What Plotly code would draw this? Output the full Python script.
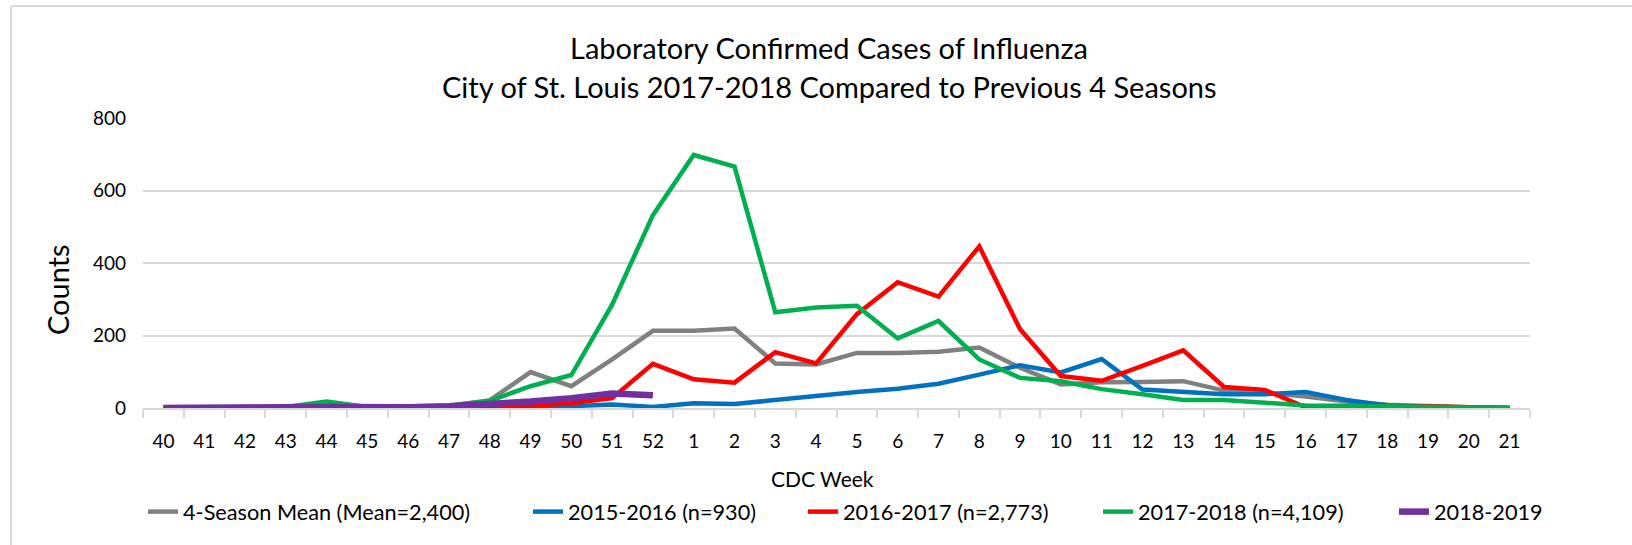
import plotly.graph_objects as go

weeks = [str(w) for w in range(40, 53)] + [str(w) for w in range(1, 22)]

mean_4season = [2, 3, 2, 3, 5, 3, 3, 6, 21, 99, 60, 134, 213, 213, 219, 123, 120, 152, 152, 155, 167, 111,
                65, 71, 72, 74, 48, 42, 32, 18, 9, 4, 2, 1]
s2015_2016 = [0, 0, 0, 0, 0, 0, 0, 1, 1, 2, 5, 10, 3, 13, 11, 23, 35, 44, 53, 67, 92, 118,
              98, 135, 51, 43, 38, 38, 44, 22, 7, 2, 1, 0]
s2016_2017 = [0, 1, 1, 2, 2, 2, 2, 3, 4, 6, 13, 27, 122, 79, 70, 154, 123, 259, 347, 307, 446, 217,
              88, 75, 116, 159, 58, 50, 2, 5, 2, 5, 2, 0]
s2017_2018 = [0, 2, 2, 3, 18, 3, 3, 6, 20, 60, 91, 285, 532, 698, 666, 264, 277, 282, 192, 240, 134, 83,
              74, 52, 38, 22, 22, 14, 7, 6, 5, 2, 1, 0]
s2018_2019 = [0, 2, 2, 2, 3, 2, 2, 5, 10, 18, 27, 40, 35]

series_names = ["4-Season Mean (Mean=2,400)", "2015-2016 (n=930)", "2016-2017 (n=2,773)",
                "2017-2018 (n=4,109)", "2018-2019"]
y_ticks = [0, 200, 400, 600, 800]

FONT = "Lato"
W, H = 1632, 545
L, R, T, B = 143, 102, 118, 137

ph = H - T - B
pw = W - L - R


def py(pix):
    return (H - B - pix) / ph


def px(pix):
    return (pix - L) / pw


fig = go.Figure()
styles = [("#808080", 4.5), ("#0070C0", 4.5), ("#FF0000", 4.5), ("#00B050", 4.5), ("#7030A0", 6.5)]
data = [mean_4season, s2015_2016, s2016_2017, s2017_2018, s2018_2019]
legend_ids = ["legend", "legend2", "legend3", "legend4", "legend5"]
legend_text_x = [185, 570, 845, 1140, 1436]

for name, vals, (col, w), lid in zip(series_names, data, styles, legend_ids):
    fig.add_trace(go.Scatter(
        x=weeks[:len(vals)], y=vals, name=name, mode="lines",
        line=dict(color=col, width=w), legend=lid,
    ))

legend_layout = {}
for lid, tx in zip(legend_ids, legend_text_x):
    legend_layout[lid] = dict(orientation="h", x=px(tx - 42), xanchor="left", y=py(512), yanchor="middle",
                              font=dict(family=FONT, size=21.7, color="#000000"),
                              bgcolor="rgba(0,0,0,0)")

fig.update_layout(
    width=W, height=H,
    margin=dict(l=L, r=R, t=T, b=B),
    paper_bgcolor="white", plot_bgcolor="white",
    font=dict(family=FONT, size=19, color="#000000"),
    showlegend=True,
    xaxis=dict(type="category", categoryorder="array", categoryarray=weeks,
               range=[-0.5, len(weeks) - 0.5], showgrid=False,
               showline=True, linecolor="#d9d9d9", linewidth=2,
               ticks="outside", tickson="boundaries", ticklen=8, tickcolor="#d9d9d9", tickwidth=2,
               tickfont=dict(family=FONT, size=19), ticklabelstandoff=15, fixedrange=True),
    yaxis=dict(range=[0, 800], tickvals=y_ticks, showgrid=True, gridcolor="#d9d9d9", gridwidth=2,
               zeroline=False, showline=False, ticks="",
               tickfont=dict(family=FONT, size=19), ticklabelstandoff=16, fixedrange=True),
    annotations=[
        dict(text="Laboratory Confirmed Cases of Influenza", xref="paper", yref="paper",
             x=px(829), y=py(48), xanchor="center", yanchor="middle", showarrow=False,
             font=dict(family=FONT, size=29)),
        dict(text="City of St. Louis 2017-2018 Compared to Previous 4 Seasons", xref="paper", yref="paper",
             x=px(829), y=py(87), xanchor="center", yanchor="middle", showarrow=False,
             font=dict(family=FONT, size=29)),
        dict(text="Counts", xref="paper", yref="paper", x=px(57), y=py(290), textangle=-90,
             xanchor="center", yanchor="middle", showarrow=False, font=dict(family=FONT, size=29)),
        dict(text="CDC Week", xref="paper", yref="paper", x=px(822), y=py(478),
             xanchor="center", yanchor="middle", showarrow=False, font=dict(family=FONT, size=21)),
    ],
    shapes=[
        dict(type="line", xref="paper", yref="paper", x0=px(11), x1=px(W + 5), y0=py(6), y1=py(6),
             line=dict(color="#d9d9d9", width=2)),
        dict(type="line", xref="paper", yref="paper", x0=px(11), x1=px(11), y0=py(6), y1=py(H + 5),
             line=dict(color="#d9d9d9", width=2)),
    ],
    **legend_layout,
)

fig.write_html("out.html", config={"displayModeBar": False},
               post_script="document.body.style.margin='0';")
